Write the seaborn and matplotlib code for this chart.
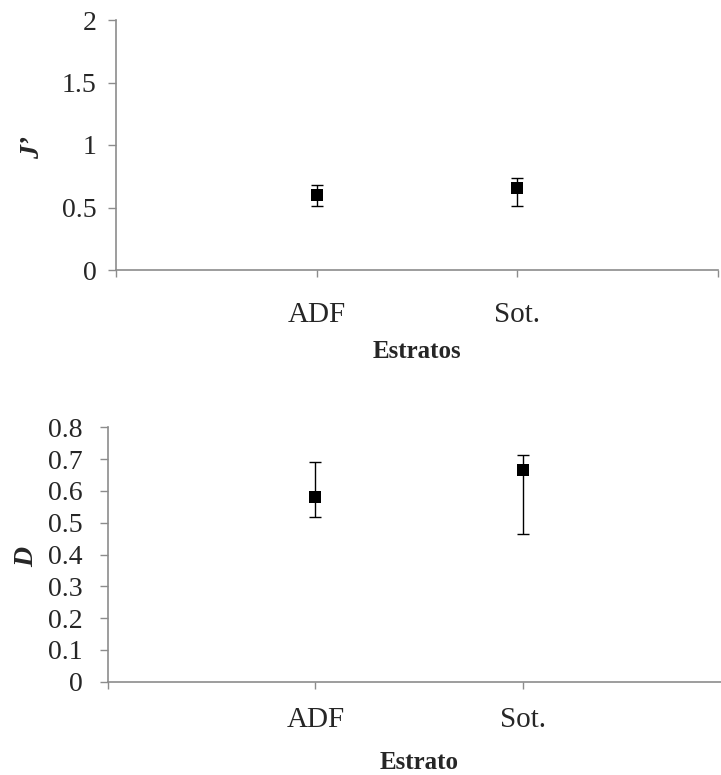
import numpy as np
import pandas as pd
import seaborn as sns
import matplotlib.pyplot as plt

estratos = ["ADF", "Sot."]

j_mean = [0.60, 0.66]
j_low = [0.51, 0.51]
j_high = [0.68, 0.74]

d_mean = [0.58, 0.665]
d_low = [0.517, 0.465]
d_high = [0.69, 0.712]

sns.set_theme(style="white")
plt.rcParams['font.family'] = ['Liberation Serif', 'DejaVu Serif']

fig = plt.figure(figsize=(7.21, 7.75), dpi=100)
ax1 = fig.add_axes([116/721, 1-270/775, 602/721, 250/775])
ax2 = fig.add_axes([108/721, 1-681.7/775, 622/721, 254.4/775])

grey = '#8c8c8c'


def draw(ax, mean, low, high, ylim, yticks, ylabel, xlabel, ypad, xpad, xl_y, yl_x):
    df = pd.DataFrame({'estrato': estratos, 'x': np.arange(1, len(estratos) + 1),
                       'mean': mean, 'low': low, 'high': high})
    err = [df['mean'] - df['low'], df['high'] - df['mean']]
    ax.errorbar(df['x'], df['mean'], yerr=err, fmt='none', ecolor='black',
                elinewidth=1.0, capsize=4, capthick=1.0, zorder=2)
    sns.scatterplot(data=df, x='x', y='mean', marker='s', s=85, color='black',
                    edgecolor='black', linewidth=0, ax=ax, zorder=3)
    ax.set_xlim(0, 3)
    ax.set_ylim(*ylim)
    ax.set_yticks(yticks)
    ax.set_yticklabels([f'{t:g}' for t in yticks])
    ax.set_xticks([0, 1, 2, 3])
    ax.set_xticklabels([''] + estratos + [''])
    for s in ['top', 'right']:
        ax.spines[s].set_visible(False)
    for s in ['left', 'bottom']:
        ax.spines[s].set_color(grey)
        ax.spines[s].set_linewidth(1.2)
    ax.tick_params(axis='y', direction='out', length=6, width=1, color=grey,
                   labelsize=20, pad=ypad, left=True)
    ax.tick_params(axis='x', direction='out', length=5, width=1, color=grey,
                   labelsize=21, pad=xpad, bottom=True)
    ax.set_xlabel(xlabel, fontsize=18, fontweight='bold')
    ax.set_ylabel(ylabel, fontsize=20, fontweight='bold', fontstyle='italic')
    ax.xaxis.set_label_coords(0.5, xl_y)
    ax.xaxis.label.set_va('center')
    ax.yaxis.set_label_coords(yl_x, 0.49)
    ax.yaxis.label.set_va('center')


draw(ax1, j_mean, j_low, j_high, (0, 2), [0, 0.5, 1, 1.5, 2], 'J\u2019', 'Estratos',
     8, 18, -0.324, -0.138)
draw(ax2, d_mean, d_low, d_high, (0, 0.8), [round(v, 1) for v in np.arange(0, 0.81, 0.1)],
     'D', 'Estrato', 12, 13, -0.318, -0.13)

fig.savefig('out.png', dpi=100)
